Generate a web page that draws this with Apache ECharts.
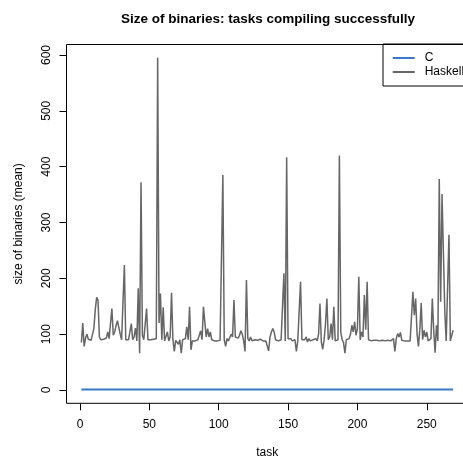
<!DOCTYPE html>
<html>
<head>
<meta charset="utf-8">
<script src="https://cdn.jsdelivr.net/npm/echarts@6/dist/echarts.min.js"></script>
<style>
html,body{margin:0;padding:0;background:#fff;overflow:hidden;}
#chart{width:472px;height:464px;}
</style>
</head>
<body>
<div id="chart"></div>
<script>
// Mean binary size per task (Haskell), tasks 1..269
const haskellSizes = [
  85,120,78,93,100,91,90,89,91,110,
  143,166,161,95,90,90,91,92,93,104,
  92,92,146,98,104,115,124,122,100,90,
  92,224,90,89,90,92,119,90,95,111,
  88,182,66,372,98,90,92,146,90,89,
  90,91,91,90,92,595,120,173,90,148,
  88,88,104,88,95,174,90,69,89,88,
  82,90,66,90,88,92,113,90,149,72,
  88,90,88,91,90,90,106,90,149,149,
  95,110,95,104,90,90,88,90,88,90,
  89,90,385,90,78,92,88,90,100,95,
  161,95,92,93,98,106,100,88,69,197,
  92,88,95,88,89,90,89,89,90,91,
  90,88,91,88,85,70,95,104,110,104,
  90,92,88,90,90,89,209,88,417,92,
  90,92,88,90,90,69,88,88,194,90,
  92,90,95,86,92,88,90,90,90,92,
  88,100,155,86,73,90,119,164,90,95,
  119,90,149,88,90,90,420,104,90,85,
  66,90,89,92,100,116,104,122,98,110,
  203,90,104,95,170,108,194,90,89,88,
  89,89,88,89,89,88,88,89,89,88,
  88,89,89,88,88,92,69,92,101,95,
  103,89,88,88,88,88,90,88,90,176,
  134,164,101,78,109,156,90,107,95,104,
  88,88,92,164,107,67,116,88,378,158,
  351,245,140,88,88,278,88,90,107
];
// Mean binary size per task (C), tasks 1..269
const cSizes = [
  1,1,1,1,1,1,1,1,1,1, 1,1,1,1,1,1,1,1,1,1, 1,1,1,1,1,1,1,1,1,1,
  1,1,1,1,1,1,1,1,1,1, 1,1,1,1,1,1,1,1,1,1, 1,1,1,1,1,1,1,1,1,1,
  1,1,1,1,1,1,1,1,1,1, 1,1,1,1,1,1,1,1,1,1, 1,1,1,1,1,1,1,1,1,1,
  1,1,1,1,1,1,1,1,1,1, 1,1,1,1,1,1,1,1,1,1, 1,1,1,1,1,1,1,1,1,1,
  1,1,1,1,1,1,1,1,1,1, 1,1,1,1,1,1,1,1,1,1, 1,1,1,1,1,1,1,1,1,1,
  1,1,1,1,1,1,1,1,1,1, 1,1,1,1,1,1,1,1,1,1, 1,1,1,1,1,1,1,1,1,1,
  1,1,1,1,1,1,1,1,1,1, 1,1,1,1,1,1,1,1,1,1, 1,1,1,1,1,1,1,1,1,1,
  1,1,1,1,1,1,1,1,1,1, 1,1,1,1,1,1,1,1,1,1, 1,1,1,1,1,1,1,1,1,1,
  1,1,1,1,1,1,1,1,1,1, 1,1,1,1,1,1,1,1,1,1, 1,1,1,1,1,1,1,1,1
];
const xTicks = [0, 50, 100, 150, 200, 250];
const yTicks = [0, 100, 200, 300, 400, 500, 600];
const seriesNames = ['C', 'Haskell'];

const toPairs = arr => arr.map((v, i) => [i + 1, v]);
const font = 'Liberation Sans, Arial, Helvetica, sans-serif';

const chart = echarts.init(document.getElementById('chart'), null, {renderer: 'canvas'});
chart.setOption({
  animation: false,
  backgroundColor: '#ffffff',
  title: {
    text: 'Size of binaries: tasks compiling successfully',
    left: 263, top: 7, textAlign: 'center',
    textStyle: {fontFamily: font, fontSize: 13.5, fontWeight: 'bold', color: '#000'}
  },
  legend: {
    data: seriesNames,
    orient: 'vertical',
    left: 383, top: 44,
    borderColor: '#000', borderWidth: 1, borderRadius: 0,
    padding: [7, 11, 7, 9.7],
    itemGap: 0, itemWidth: 22, itemHeight: 2,
    icon: 'rect',
    textStyle: {fontFamily: font, fontSize: 12, color: '#000', lineHeight: 14, padding: [0, 0, 0, 5]}
  },
  grid: {
    left: 66.5, top: 44.5, width: 401.5, height: 358.8,
    show: true, borderColor: '#000', borderWidth: 1, backgroundColor: 'transparent'
  },
  xAxis: {
    type: 'value', min: -9.72, max: 279.72,
    name: 'task', nameLocation: 'middle', nameGap: 43,
    nameTextStyle: {fontFamily: font, fontSize: 12, color: '#000'},
    axisLine: {show: false, onZero: false},
    axisTick: {show: true, length: 7, lineStyle: {color: '#000', width: 1}, customValues: xTicks},
    axisLabel: {fontFamily: font, fontSize: 12, color: '#000', margin: 15, customValues: xTicks},
    splitLine: {show: false}
  },
  yAxis: {
    type: 'value', min: -23.8, max: 618.8,
    name: 'size of binaries (mean)', nameLocation: 'middle', nameGap: 42, nameRotate: 90,
    nameTextStyle: {fontFamily: font, fontSize: 12, color: '#000'},
    axisLine: {show: false, onZero: false},
    axisTick: {show: true, length: 7, lineStyle: {color: '#000', width: 1}, customValues: yTicks},
    axisLabel: {fontFamily: font, fontSize: 12, color: '#000', margin: 14, rotate: 90, customValues: yTicks},
    splitLine: {show: false}
  },
  series: [
    {
      name: seriesNames[0], type: 'line', data: toPairs(cSizes),
      showSymbol: false, symbol: 'none',
      lineStyle: {color: '#3c78c8', width: 2}, itemStyle: {color: '#3c78c8'}
    },
    {
      name: seriesNames[1], type: 'line', data: toPairs(haskellSizes),
      showSymbol: false, symbol: 'none',
      lineStyle: {color: '#666666', width: 1.5}, itemStyle: {color: '#666666'}
    }
  ]
});
</script>
</body>
</html>
